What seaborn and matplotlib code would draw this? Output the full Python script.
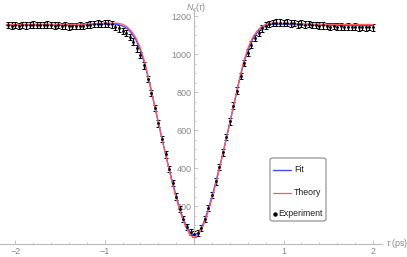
import matplotlib
matplotlib.use("Agg")
import matplotlib.pyplot as plt
import seaborn as sns
from matplotlib.ticker import MultipleLocator, FixedLocator
from matplotlib.patches import FancyBboxPatch
from matplotlib.lines import Line2D

# experiment: delay (ps) and coincidence counts
exp_tau = [
    -2.08, -2.04, -2.00, -1.96, -1.92, -1.88, -1.84, -1.80, -1.76, -1.72,
    -1.68, -1.64, -1.60, -1.56, -1.52, -1.48, -1.44, -1.40, -1.36, -1.32,
    -1.28, -1.24, -1.20, -1.16, -1.12, -1.08, -1.04, -1.00, -0.96, -0.92,
    -0.88, -0.84, -0.80, -0.76, -0.72, -0.68, -0.64, -0.60, -0.56, -0.52,
    -0.48, -0.44, -0.40, -0.36, -0.32, -0.28, -0.24, -0.20, -0.16, -0.12,
    -0.08, -0.04, 0.00, 0.04, 0.08, 0.12, 0.16, 0.20, 0.24, 0.28,
    0.32, 0.36, 0.40, 0.44, 0.48, 0.52, 0.56, 0.60, 0.64, 0.68,
    0.72, 0.76, 0.80, 0.84, 0.88, 0.92, 0.96, 1.00, 1.04, 1.08,
    1.12, 1.16, 1.20, 1.24, 1.28, 1.32, 1.36, 1.40, 1.44, 1.48,
    1.52, 1.56, 1.60, 1.64, 1.68, 1.72, 1.76, 1.80, 1.84, 1.88,
    1.92, 1.96, 2.00,
]
exp_counts = [
    1152, 1150, 1153, 1149, 1154, 1151, 1153, 1155, 1152, 1154,
    1153, 1155, 1152, 1150, 1153, 1148, 1151, 1146, 1149, 1147,
    1150, 1149, 1152, 1155, 1158, 1160, 1158, 1162, 1160, 1156,
    1145, 1135, 1122, 1110, 1090, 1065, 1030, 995, 940, 870,
    795, 715, 635, 552, 472, 395, 320, 250, 185, 132,
    90, 62, 52, 58, 85, 132, 190, 258, 330, 405,
    482, 562, 645, 728, 808, 885, 952, 1008, 1050, 1085,
    1112, 1135, 1150, 1158, 1163, 1166, 1166, 1164, 1166, 1162,
    1163, 1156, 1160, 1155, 1157, 1152, 1154, 1150, 1151, 1148,
    1145, 1147, 1144, 1146, 1143, 1145, 1142, 1144, 1141, 1143,
    1140, 1142, 1141,
]
exp_err = 17

# fit and theory curves
curve_tau = [
    -2.10, -1.90, -1.70, -1.50, -1.30, -1.10, -1.00, -0.90, -0.85, -0.80,
    -0.75, -0.70, -0.65, -0.60, -0.55, -0.50, -0.45, -0.40, -0.35, -0.30,
    -0.25, -0.20, -0.15, -0.10, -0.05, 0.00, 0.05, 0.10, 0.15, 0.20,
    0.25, 0.30, 0.35, 0.40, 0.45, 0.50, 0.55, 0.60, 0.65, 0.70,
    0.75, 0.80, 0.85, 0.90, 1.00, 1.10, 1.30, 1.50, 1.70, 1.90, 2.00,
]
fit_counts = [
    1152, 1153, 1154, 1152, 1152, 1156, 1158, 1157, 1155, 1148,
    1135, 1110, 1075, 1020, 945, 850, 745, 640, 535, 435,
    340, 250, 170, 105, 60, 45, 60, 105, 170, 250,
    340, 435, 535, 640, 745, 850, 945, 1020, 1075, 1110,
    1135, 1148, 1155, 1157, 1157, 1155, 1153, 1151, 1150, 1150, 1150,
]
theory_counts = [
    1156, 1156, 1157, 1157, 1157, 1160, 1162, 1163, 1162, 1157,
    1144, 1120, 1085, 1030, 955, 855, 748, 640, 535, 432,
    330, 240, 160, 95, 50, 33, 50, 95, 160, 240,
    330, 432, 535, 640, 748, 855, 955, 1030, 1085, 1120,
    1144, 1157, 1162, 1163, 1162, 1160, 1158, 1157, 1156, 1156, 1156,
]

y_ticks = [200, 400, 600, 800, 1000, 1200]
x_ticks = [-2, -1, 1, 2]

FIT_C = "#4b4bff"
THEORY_C = "#ff5a5a"

sns.set_style("white")
plt.rcParams['font.family'] = ['Liberation Sans', 'DejaVu Sans']
plt.rcParams['mathtext.fontset'] = 'custom'
plt.rcParams['mathtext.rm'] = 'Liberation Sans'
plt.rcParams['mathtext.it'] = 'Liberation Sans:italic'

W, H = 407, 257
fig = plt.figure(figsize=(W / 100, H / 100), dpi=100)
ax = fig.add_axes([0.0, 13 / H, 382 / W, 234 / H])

ax.errorbar(exp_tau, exp_counts, yerr=exp_err, fmt="none", ecolor="black",
            elinewidth=0.9, capsize=1.2, capthick=0.7, zorder=2)
sns.lineplot(x=curve_tau, y=fit_counts, ax=ax, color=FIT_C, lw=1.0,
             legend=False, zorder=3)
sns.lineplot(x=curve_tau, y=theory_counts, ax=ax, color=THEORY_C, lw=0.9,
             legend=False, zorder=3)
sns.scatterplot(x=exp_tau, y=exp_counts, ax=ax, color="black", s=4,
                linewidth=0, legend=False, zorder=4)

ax.set_xlim(-2.17, 2.10)
ax.set_ylim(0, 1232)
ax.spines['left'].set_position(('data', 0))
ax.spines['bottom'].set_position(('data', 0))
for side in ['top', 'right']:
    ax.spines[side].set_visible(False)
for side in ['left', 'bottom']:
    ax.spines[side].set_color("#bbbbbb")
    ax.spines[side].set_linewidth(0.8)

ax.xaxis.set_major_locator(FixedLocator(x_ticks))
ax.xaxis.set_minor_locator(MultipleLocator(0.2))
ax.yaxis.set_major_locator(FixedLocator(y_ticks))
ax.yaxis.set_minor_locator(MultipleLocator(50))
ax.tick_params(which='both', direction='in', color="#bbbbbb", labelcolor="#888888",
               labelsize=6.5, bottom=True, left=True, pad=2)
ax.tick_params(which='major', length=3, width=0.6)
ax.tick_params(which='minor', length=1.5, width=0.5)
ax.set_xlabel("")
ax.set_ylabel("")

fig.text(386 / W, 13 / H, r"$\tau$ (ps)", ha='left', va='center',
         fontsize=6.3, color="#888888")
fig.text(196 / W, 1 - 7 / H, r"$N_c(\tau)$", ha='center', va='center',
         fontsize=6.3, color="#888888")

# legend box drawn by hand (dot entry sits further left than the lines)
def fx(px):
    return px / W


def fy(py):
    return 1 - py / H


box = FancyBboxPatch((fx(270), fy(221)), fx(326) - fx(270), fy(158) - fy(221),
                     boxstyle="round,pad=0,rounding_size=0.008",
                     transform=fig.transFigure, facecolor="white",
                     edgecolor="#888888", linewidth=0.8, zorder=5)
fig.add_artist(box)
fig.add_artist(Line2D([fx(273), fx(291)], [fy(170), fy(170)], color=FIT_C,
                      lw=1.0, transform=fig.transFigure, zorder=6))
fig.add_artist(Line2D([fx(273), fx(291)], [fy(193), fy(193)], color=THEORY_C,
                      lw=0.9, transform=fig.transFigure, zorder=6))
fig.add_artist(Line2D([fx(275)], [fy(213.5)], color="black", marker="o", ms=2.2,
                      lw=0, transform=fig.transFigure, zorder=6))
for label, px, py in [("Fit", 294, 170), ("Theory", 294, 192.5),
                      ("Experiment", 278, 213)]:
    fig.text(fx(px), fy(py), label, ha='left', va='center', fontsize=6.3,
             color="#222222", zorder=7)

fig.savefig("out.png", dpi=100)
